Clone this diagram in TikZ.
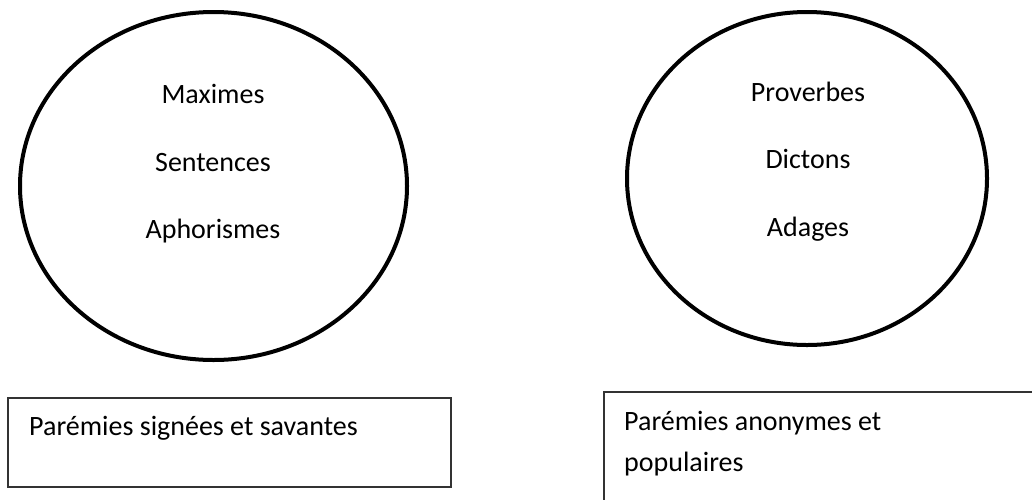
\documentclass[tikz,border=0pt]{standalone}
\usepackage{fontspec}
\setmainfont{Carlito}
\usetikzlibrary{shapes.geometric}
\tikzset{
  oval/.style={draw=black, line width=4pt, ellipse, inner sep=0pt},
  word/.style={anchor=base, inner sep=0pt, font=\fontsize{28}{41}\selectfont},
  boxlabel/.style={anchor=base west, inner sep=0pt, font=\fontsize{28}{41}\selectfont},
  frame/.style={draw=black!80, line width=1.5pt}
}
\begin{document}
\begin{tikzpicture}[x=1pt,y=-1pt]
\useasboundingbox (0,0) rectangle (1032,499);
\clip (0,0) rectangle (1032,499);
\fill[white] (0,0) rectangle (1032,499);
% left ellipse
\node[oval, minimum width=387pt, minimum height=348pt] (e1) at (213.5,186) {};
\node[word] (m1) at (213,103) {Maximes};
\node[word] (m2) at (213,171) {Sentences};
\node[word] (m3) at (213,238) {Aphorismes};
% right ellipse
\node[oval, minimum width=360pt, minimum height=333pt] (e2) at (807,178.5) {};
\node[word] (p1) at (808,101) {Proverbes};
\node[word] (p2) at (808,168) {Dictons};
\node[word] (p3) at (808,236) {Adages};
% boxes
\coordinate (b1a) at (8,398);
\coordinate (b1b) at (451,487);
\draw[frame] (b1a) rectangle (b1b);
\node[boxlabel] (t1) at (29,435) {Parémies signées et savantes};
\coordinate (b2a) at (604,392);
\coordinate (b2b) at (1045,510);
\draw[frame] (b2a) rectangle (b2b);
\node[boxlabel] (t2) at (624,430) {Parémies anonymes et};
\node[boxlabel] (t3) at (624,471) {populaires};
\end{tikzpicture}
\end{document}
